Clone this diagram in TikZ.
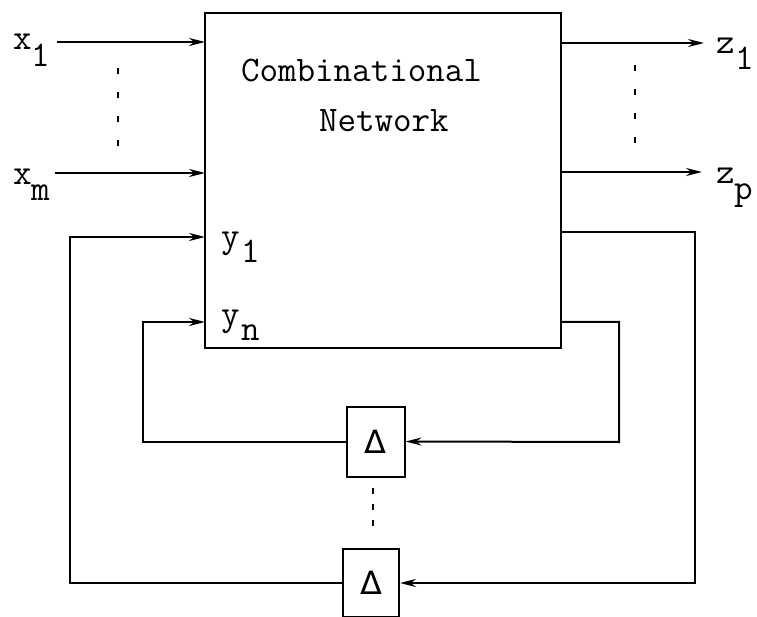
\documentclass[tikz,border=0pt]{standalone}
\usepackage{fontspec}
\newfontfamily\djv{DejaVu Sans}
\usetikzlibrary{arrows.meta}
\begin{document}
\begin{tikzpicture}[x=1pt,y=-1pt,
  line width=2pt,
  arr/.style={-{Stealth[length=16pt,width=8pt]}},
  lbl/.style={anchor=base west,inner sep=0pt,font=\fontsize{36}{40}\selectfont\ttfamily},
  dly/.style={draw,rectangle,inner sep=0pt,minimum width=58pt,minimum height=70pt,font=\fontsize{32}{36}\selectfont\djv},
  dots/.style={line width=2pt,dash pattern=on 6pt off 18pt}]
\useasboundingbox (0,0) rectangle (757,617);
% main box
\node[draw,rectangle,inner sep=0pt,minimum width=356pt,minimum height=335pt] (net) at (383,180.5) {};
\node[lbl] (t1) at (240,82) {Combinational};
\node[lbl] (t2) at (318,132) {Network};
% delay boxes
\node[dly] (d1) at (375.5,441.5) {Δ};
\node[dly,minimum width=56pt,minimum height=68pt] (d2) at (371,583) {Δ};
% inputs
\coordinate (x1s) at (57,42);  \coordinate (x1e) at (205,42);
\coordinate (xms) at (55,173); \coordinate (xme) at (205,173);
\draw[arr] (x1s) -- (x1e);
\draw[arr] (xms) -- (xme);
\node[lbl] (x1) at (12,50) {x};
\node[lbl] (x1s1) at (30,67) {1};
\node[lbl] (xm) at (12,185) {x};
\node[lbl] (xms1) at (30,201) {m};
\coordinate (ld1) at (118,68); \coordinate (ld2) at (118,150);
\draw[dots] (ld1) -- (ld2);
% outputs
\coordinate (z1s) at (561,43);  \coordinate (z1e) at (704,43);
\coordinate (zps) at (561,172); \coordinate (zpe) at (702,172);
\draw[arr] (z1s) -- (z1e);
\draw[arr] (zps) -- (zpe);
\node[lbl] (z1) at (715,54) {z};
\node[lbl] (z1s1) at (734,70) {1};
\node[lbl] (zp) at (715,184) {z};
\node[lbl] (zps1) at (733,200) {p};
\coordinate (rd1) at (635,65); \coordinate (rd2) at (635,145);
\draw[dots] (rd1) -- (rd2);
% y labels
\node[lbl] (y1) at (220,248) {y};
\node[lbl] (y1s) at (240,263) {1};
\node[lbl] (yn) at (220,326) {y};
\node[lbl] (yns) at (240,341) {n};
% inner feedback loop
\coordinate (o1) at (561,322); \coordinate (c1) at (619,322); \coordinate (c2) at (619,442);
\draw[arr] (o1) -- (c1) -- (c2) -- (d1.east);
\coordinate (c3) at (143,441.5); \coordinate (c4) at (143,322); \coordinate (yne) at (205,322);
\draw[arr] (d1.west) -- (c3) -- (c4) -- (yne);
% outer feedback loop
\coordinate (o2) at (561,232); \coordinate (c5) at (695,232); \coordinate (c6) at (695,583);
\draw[arr] (o2) -- (c5) -- (c6) -- (d2.east);
\coordinate (c7) at (70,583); \coordinate (c8) at (70,237); \coordinate (y1e) at (205,237);
\draw[arr] (d2.west) -- (c7) -- (c8) -- (y1e);
% dots between delays
\coordinate (md1) at (373,488); \coordinate (md2) at (373,532);
\draw[dots,dash pattern=on 6pt off 10pt] (md1) -- (md2);
\end{tikzpicture}
\end{document}
